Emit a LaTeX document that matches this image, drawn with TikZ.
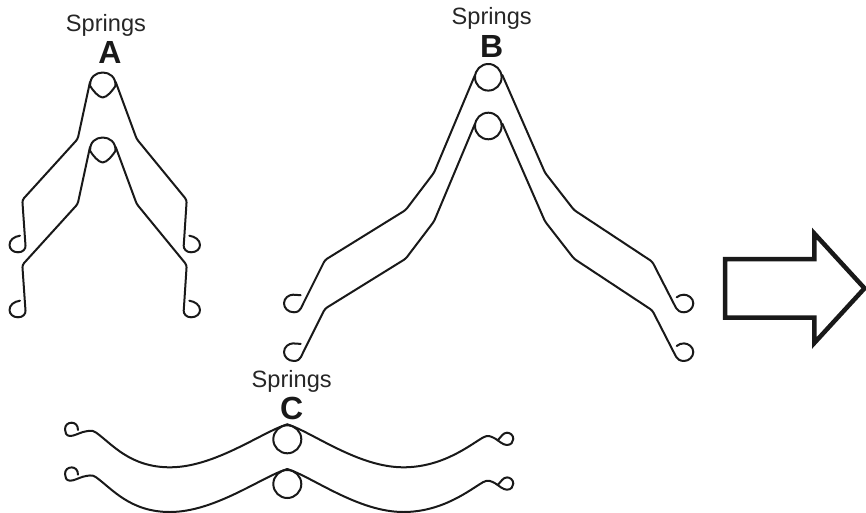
\documentclass[tikz,border=0pt]{standalone}
\usepackage{fontspec}
\setmainfont{Liberation Sans}
\tikzset{
  wire/.style={draw=black!90,line width=2pt,line join=round,line cap=round,fill=none},
  bigarrow/.style={draw=black!90,line width=4.5pt,miter limit=10,fill=none},
  springlabel/.style={anchor=base,inner sep=0pt,font=\fontsize{23.6}{28}\selectfont,text=black!85},
  letterlabel/.style={anchor=base,inner sep=0pt,font=\fontsize{32}{36}\selectfont\bfseries,text=black!90}
}
\begin{document}
\begin{tikzpicture}[x=1pt,y=-1pt]
\useasboundingbox (0,0) rectangle (866,513);
\clip (0,0) rectangle (866,513);
% Spring set A
\foreach \dy in {0,65}{
\begin{scope}[shift={(0,\dy)}]
  \draw[wire] (90.2,86) .. controls (89.5,77) and (96,72.5) .. (102.7,72.5)
     .. controls (109.5,72.5) and (116,77) .. (115.4,86)
     .. controls (113,90) and (107,97.5) .. (102.7,97.5)
     .. controls (98.5,97.5) and (92.5,90) .. (90.2,86);
  \draw[wire,rounded corners=2.5pt] (90,82) -- (77.7,139) -- (22.3,200) -- (25.3,243)
     [sharp corners] .. controls (25.8,249) and (23,252.3) .. (18,252.3)
     .. controls (13,252.3) and (9.5,249) .. (9.5,245)
     .. controls (9.5,240) and (14,236.5) .. (20,235.7);
  \draw[wire,rounded corners=2.5pt] (115.7,82) -- (136.7,139) -- (186.7,200) -- (183.9,243)
     [sharp corners] .. controls (183.4,249) and (186.5,252.3) .. (191,252.3)
     .. controls (196.5,252.3) and (200,249) .. (200,245)
     .. controls (200,240) and (195,236.5) .. (189.3,235.7);
\end{scope}}
% Spring set B
\foreach \dy in {0,48.7}{
\begin{scope}[shift={(0,\dy)}]
  \draw[wire] (488.3,77.3) circle[radius=13.3];
  \draw[wire,rounded corners=2.5pt] (475,75) -- (434,172.7) -- (405.7,210) -- (325,260) -- (302,306)
     [sharp corners] .. controls (300,310.5) and (297.5,312.3) .. (294,312.3)
     .. controls (288,312.3) and (284,308) .. (284,303.3)
     .. controls (284,298) and (289,294.7) .. (293,294.7) -- (300.7,295.2);
  \draw[wire,rounded corners=2.5pt] (502.3,75) -- (545,172.7) -- (574,210) -- (652.3,261.7) -- (675,306)
     [sharp corners] .. controls (677.5,310.5) and (680,312.3) .. (684,312.3)
     .. controls (689,312.3) and (693.3,308) .. (693.3,303.3)
     .. controls (693.3,298) and (688,294.7) .. (684,294.7)
     .. controls (681,294.7) and (679,295.5) .. (676.7,297.3);
\end{scope}}
% Spring set C
\foreach \dy in {0,44.7}{
\begin{scope}[shift={(0,\dy)}]
  \draw[wire] (287.3,439.3) circle[radius=14];
  \draw[wire] (287.3,424.3) .. controls (262,432) and (215,467.3) .. (170,467.3)
     .. controls (130,467.3) and (112,444) .. (96,432.5)
     .. controls (92,429.5) and (88,431) .. (83,432)
     .. controls (78,433.5) and (74,436) .. (70,436)
     .. controls (66,436) and (65,432) .. (65,429.3)
     .. controls (65,425) and (68,422.7) .. (71.7,422.7)
     .. controls (75,422.7) and (78,425) .. (78,430);
  \draw[wire] (287.3,424.3) .. controls (312,432) and (358,467.3) .. (403.3,467.3)
     .. controls (443,467.3) and (470,445) .. (483,437.5)
     .. controls (488,434.5) and (491,436.5) .. (495,438.5)
     .. controls (499,441) and (503,445) .. (507,445)
     .. controls (511,445) and (513.3,442) .. (513.3,439)
     .. controls (513.3,435) and (510,432.7) .. (507,432.7)
     .. controls (503,432.7) and (501,437) .. (498,440);
\end{scope}}
% Big arrow
\draw[bigarrow] (725,259) -- (814.3,259) -- (814.3,233.5) -- (864.5,288.3) -- (814.3,343) -- (814.3,317.7) -- (725,317.7) -- cycle;
% Labels
\node[springlabel] (sa) at (106,32) {Springs};
\node[letterlabel] (la) at (110,64) {A};
\node[springlabel] (sb) at (491.7,25) {Springs};
\node[letterlabel] (lb) at (491.7,58) {B};
\node[springlabel] (sc) at (291.7,387) {Springs};
\node[letterlabel] (lc) at (291.7,419) {C};
\end{tikzpicture}
\end{document}
